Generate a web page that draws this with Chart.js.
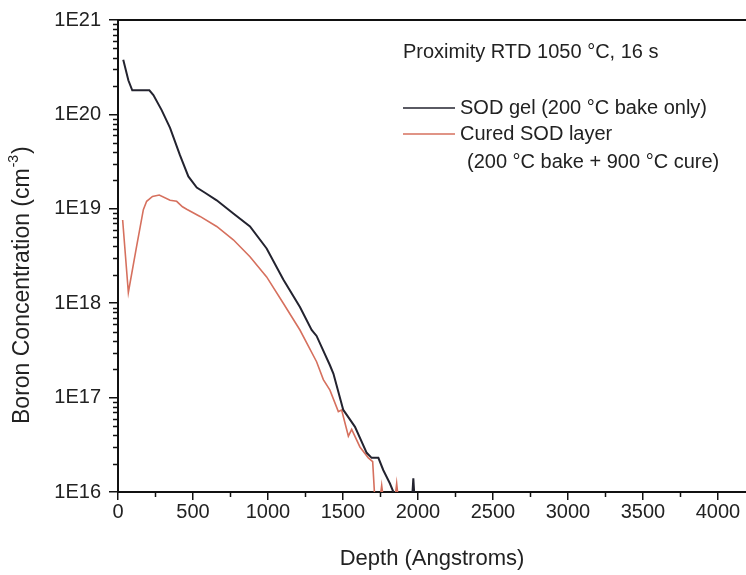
<!DOCTYPE html>
<html>
<head>
<meta charset="utf-8">
<script src="https://cdn.jsdelivr.net/npm/chart.js@4/dist/chart.umd.min.js"></script>
<style>
  html, body { margin: 0; padding: 0; background: #fff; }
  #wrap { width: 746px; height: 575px; }
</style>
</head>
<body>
<div id="wrap"><canvas id="sims"></canvas></div>
<script>
// Profil SIMS
const gelDepth = [35, 69, 95, 150, 209, 236, 291, 347, 413, 469, 525, 580, 658, 769, 880, 991, 1102, 1213, 1291, 1324, 1413, 1436, 1502, 1524, 1580, 1658, 1691, 1736, 1769, 1813, 1836, 1860, 1950, 1962, 1969, 1976, 1990, 2010];
const gelConc = [3.8e20, 2.3e20, 1.8e20, 1.8e20, 1.8e20, 1.6e20, 1.11e20, 7.2e19, 3.7e19, 2.2e19, 1.68e19, 1.48e19, 1.23e19, 8.9e18, 6.5e18, 3.8e18, 1.78e18, 9.1e17, 5.2e17, 4.5e17, 2.2e17, 1.8e17, 7.4e16, 6.6e16, 4.9e16, 2.6e16, 2.3e16, 2.3e16, 1.7e16, 1.23e16, 1.0e16, 9.0e15, 9.0e15, 9.0e15, 1.4e16, 9.0e15, 9.0e15, 9.0e15];

const curedDepth = [31, 69, 124, 169, 191, 230, 275, 347, 391, 430, 458, 547, 658, 769, 880, 991, 1102, 1213, 1324, 1369, 1413, 1469, 1491, 1536, 1558, 1613, 1669, 1698, 1713, 1745, 1758, 1771, 1845, 1858, 1870];
const curedConc = [7.6e18, 1.3e18, 4.0e18, 9.8e18, 1.2e19, 1.35e19, 1.4e19, 1.23e19, 1.2e19, 1.05e19, 9.9e18, 8.3e18, 6.5e18, 4.7e18, 3.1e18, 1.9e18, 1.0e18, 5.2e17, 2.4e17, 1.55e17, 1.2e17, 7.1e16, 7.4e16, 3.9e16, 4.6e16, 3.0e16, 2.3e16, 2.1e16, 8e15, 8e15, 1.17e16, 8e15, 8e15, 1.23e16, 8e15];

const xTicks = [0, 500, 1000, 1500, 2000, 2500, 3000, 3500, 4000];
const yDecades = [16, 17, 18, 19, 20, 21];

const FONT = "'Liberation Sans', Arial, sans-serif";
const TXT = "#222";

function toPoints(xs, ys) {
  return xs.map(function (x, i) { return { x: x, y: ys[i] }; });
}

// Marcas menores, marco superior, título Y, anotación y leyenda
const extrasPlugin = {
  id: "extras",
  afterDraw(chart) {
    const ctx = chart.ctx;
    const area = chart.chartArea;
    const xs = chart.scales.x;
    const ys = chart.scales.y;
    ctx.save();
    ctx.strokeStyle = "#111";
    ctx.lineWidth = 1.5;
    ctx.beginPath();
    for (let v = 250; v < xs.max; v += 500) {
      const px = Math.round(xs.getPixelForValue(v)) + 0.5;
      ctx.moveTo(px, area.bottom);
      ctx.lineTo(px, area.bottom + 5);
    }
    for (let e = yDecades[0]; e < yDecades[yDecades.length - 1]; e++) {
      for (let m = 2; m <= 9; m++) {
        const py = Math.round(ys.getPixelForValue(m * Math.pow(10, e))) + 0.5;
        ctx.moveTo(area.left - 5, py);
        ctx.lineTo(area.left, py);
      }
    }
    ctx.stroke();

    ctx.lineWidth = 2;
    ctx.beginPath();
    ctx.moveTo(area.left, area.top);
    ctx.lineTo(area.right, area.top);
    ctx.stroke();

    ctx.fillStyle = TXT;
    ctx.textBaseline = "middle";
    ctx.textAlign = "left";

    // título del eje Y con exponente
    ctx.save();
    ctx.translate(23, 424);
    ctx.rotate(-Math.PI / 2);
    ctx.font = "23px " + FONT;
    const base = "Boron Concentration (cm";
    const w = ctx.measureText(base).width;
    ctx.fillText(base, 0, 0);
    ctx.font = "14px " + FONT;
    ctx.fillText("-3", w + 1, -9);
    const w2 = ctx.measureText("-3").width;
    ctx.font = "23px " + FONT;
    ctx.fillText(")", w + w2 + 2, 0);
    ctx.restore();

    ctx.font = "20px " + FONT;
    ctx.fillText("Proximity RTD 1050 °C, 16 s", 403, 52);

    const ds = chart.data.datasets;
    const rows = [108, 134];
    ds.forEach(function (d, i) {
      ctx.strokeStyle = d.borderColor;
      ctx.lineWidth = 1.5;
      ctx.beginPath();
      ctx.moveTo(403, rows[i]);
      ctx.lineTo(455, rows[i]);
      ctx.stroke();
      ctx.fillText(d.label, 460, rows[i]);
    });
    ctx.fillText("(200 °C bake + 900 °C cure)", 467, 162);
    ctx.restore();
  },
};

new Chart(document.getElementById("sims"), {
  type: "line",
  data: {
    datasets: [
      {
        label: "SOD gel (200 °C bake only)",
        data: toPoints(gelDepth, gelConc),
        borderColor: "#23232f",
        borderWidth: 2,
        pointRadius: 0,
        tension: 0,
      },
      {
        label: "Cured SOD layer",
        data: toPoints(curedDepth, curedConc),
        borderColor: "#d6705e",
        borderWidth: 1.6,
        pointRadius: 0,
        tension: 0,
      },
    ],
  },
  options: {
    responsive: true,
    maintainAspectRatio: false,
    animation: false,
    layout: { padding: { top: 20, right: 0, left: 0, bottom: 0 } },
    plugins: {
      legend: { display: false },
      tooltip: { enabled: false },
    },
    scales: {
      x: {
        type: "linear",
        min: 0,
        max: 4187,
        afterFit: function (s) { s.height = 83; },
        afterBuildTicks: function (s) {
          s.ticks = xTicks.map(function (v) { return { value: v }; });
        },
        grid: { drawOnChartArea: false, tickLength: 8, color: "#111", lineWidth: 1.5 },
        border: { color: "#111", width: 2 },
        ticks: {
          color: TXT,
          font: { family: FONT, size: 20 },
          padding: 0,
          maxRotation: 0,
          callback: function (v) { return String(v); },
        },
        title: {
          display: true,
          text: "Depth (Angstroms)",
          color: TXT,
          font: { family: FONT, size: 22 },
          padding: { top: 0, bottom: 3 },
        },
      },
      y: {
        type: "logarithmic",
        min: 1e16,
        max: 1e21,
        afterFit: function (s) { s.width = 118; },
        afterBuildTicks: function (s) {
          s.ticks = yDecades.map(function (e) { return { value: Math.pow(10, e) }; });
        },
        grid: { drawOnChartArea: false, tickLength: 9, color: "#111", lineWidth: 1.5 },
        border: { color: "#111", width: 2 },
        ticks: {
          color: TXT,
          font: { family: FONT, size: 20 },
          padding: 8,
          callback: function (v) { return "1E" + Math.round(Math.log10(v)); },
        },
        title: { display: false },
      },
    },
  },
  plugins: [extrasPlugin],
});
</script>
</body>
</html>
